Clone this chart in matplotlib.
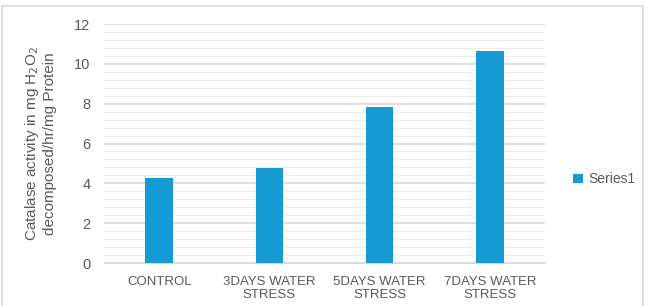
import matplotlib
matplotlib.use("Agg")
import numpy as np
from matplotlib import pyplot as plt
from matplotlib.patches import Rectangle
from matplotlib.ticker import MultipleLocator

# data
categories = ["CONTROL", "3DAYS WATER\nSTRESS", "5DAYS WATER\nSTRESS", "7DAYS WATER\nSTRESS"]
values = [4.25, 4.77, 7.85, 10.67]
series_name = "Series1"

bar_color = "#169ad4"
text_color = "#595959"
grid_color = "#d9d9d9"

plt.rcParams['font.family'] = ['Liberation Sans', 'DejaVu Sans']

fig = plt.figure(figsize=(6.51, 3.06), dpi=100)
ax = fig.add_axes([0.16, 0.1405, 0.677, 0.781])

x = np.arange(len(categories))
ax.bar(x, values, width=0.25, color=bar_color, label=series_name, zorder=3)

ax.set_xlim(-0.5, len(categories) - 0.5)
ax.set_ylim(0, 12)
ax.yaxis.set_major_locator(MultipleLocator(2))
ax.yaxis.set_minor_locator(MultipleLocator(0.4))
ax.grid(which="major", axis="y", color=grid_color, linewidth=1.2, zorder=0)
ax.grid(which="minor", axis="y", color="#ececec", linewidth=0.8, zorder=0)

ax.set_xticks(x)
ax.set_xticklabels(categories, fontsize=9.5, color=text_color, linespacing=1.15)
ax.tick_params(axis="y", which="both", length=0, labelsize=10.5, colors=text_color, pad=10)
ax.tick_params(axis="x", length=0, pad=9)
ax.tick_params(axis="y", which="minor", labelleft=False)

for s in ["top", "right", "left"]:
    ax.spines[s].set_visible(False)
ax.spines["bottom"].set_color(grid_color)

ax.set_ylabel("Catalase activity in mg H$_2$O$_2$\ndecomposed/hr/mg Protein",
              fontsize=11, color=text_color, labelpad=12, linespacing=1.2)

ax.legend(loc="center left", bbox_to_anchor=(1.035, 0.35), frameon=False,
          fontsize=10, labelcolor=text_color, handlelength=0.7, handleheight=0.7,
          handletextpad=0.4)

# light border round the chart area (bottom edge falls outside the picture)
fig.patches.append(Rectangle((0.003, -0.05), 0.984, 1.03, transform=fig.transFigure,
                             fill=False, edgecolor="#d9d9d9", linewidth=1.2))

fig.savefig("out.png", dpi=100)
